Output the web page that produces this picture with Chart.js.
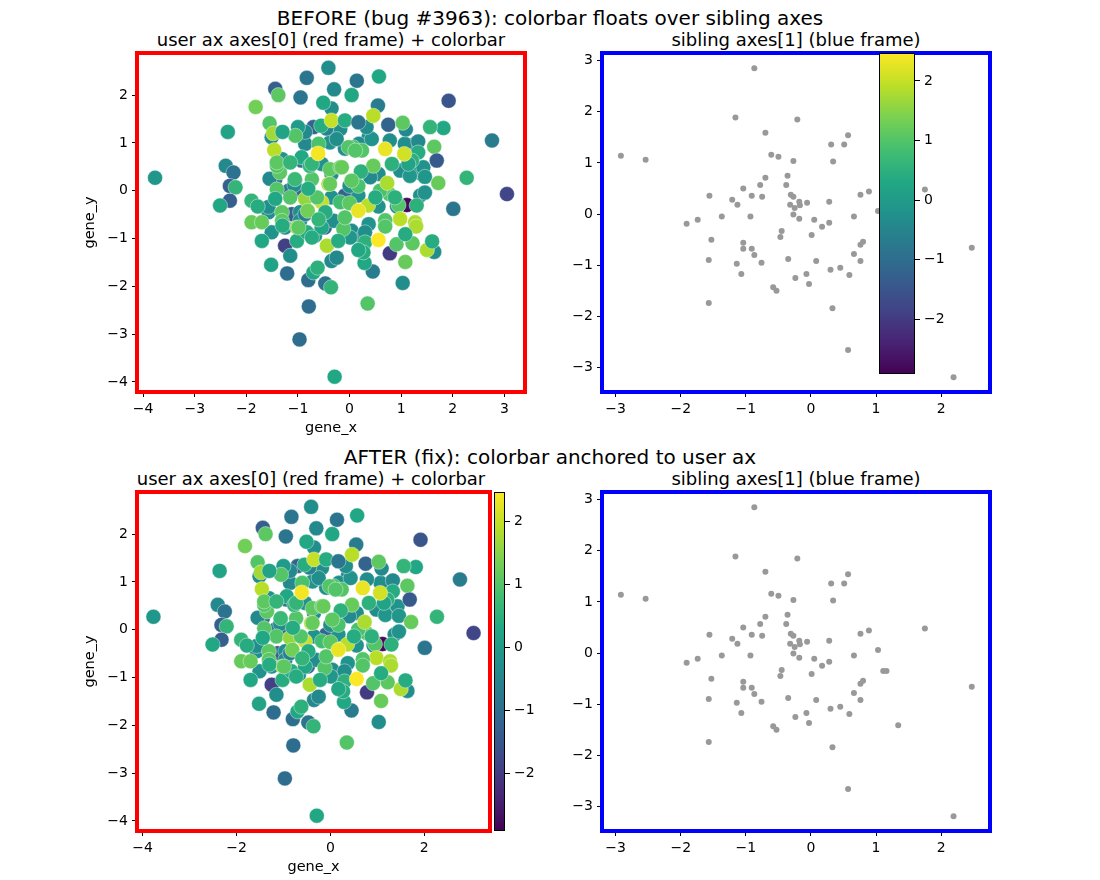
<!DOCTYPE html>
<html>
<head>
<meta charset="utf-8">
<script src="https://cdn.jsdelivr.net/npm/chart.js@4/dist/chart.umd.min.js"></script>
<style>
  body { margin: 0; background: #fff; }
  #fig { position: relative; width: 1100px; height: 880px; overflow: hidden; background: #fff;
         font-family: 'DejaVu Sans', sans-serif; color: #000; }
  .box { position: absolute; }
  .txt { position: absolute; transform: translate(-50%, -50%); white-space: nowrap; }
</style>
</head>
<body>
<div id="fig"></div>
<script>
// ── data ─────────────────────────────────────────────────────────
// user ax points: [gene_x, gene_y, colour value]; drawn in this order
const userPts = [
  // partly hidden, darker points at the back
  [1.11, -0.30, -2.8], [1.12, 0.47, -2.0], [0.78, -1.31, -2.0], [-1.25, -1.15, -1.9],
  [-0.97, 0.00, -1.2], [-1.12, -0.49, -1.3], [-1.06, 0.21, -1.3], [-0.09, -0.10, -1.2],
  [-0.48, -0.77, -1.2], [-1.44, 0.24, -1.0], [-1.18, 0.00, -0.8], [-0.70, 1.33, -1.2],
  [0.75, 1.38, -1.2], [-0.93, 0.63, -0.8],
  // teal body
  [-1.31, 0.66, -0.2], [-0.96, -0.45, -0.3], [-0.35, -0.14, -0.2], [-0.54, 0.56, -0.2],
  [-0.96, -0.63, -0.3], [-1.57, -0.45, -0.3], [-0.09, 0.88, -0.3], [-0.28, 1.12, -0.4],
  [-1.51, 1.12, -0.3], [-0.86, 0.98, -0.4], [-0.35, 0.35, -0.3], [-1.25, -0.77, -0.2],
  [0.04, -0.84, -0.3], [-0.86, -0.49, -0.6], [0.17, -0.10, -0.2], [-1.57, -0.34, -0.3],
  [1.37, -0.10, -0.3], [1.40, 0.35, -0.3], [1.27, 0.98, -0.4], [1.07, 0.98, -0.3],
  [1.27, 0.42, -0.2], [0.37, 1.12, -0.3], [0.18, 0.98, -0.3], [0.56, 0.35, -0.3],
  [0.37, -0.70, -0.2], [0.24, -0.98, -0.3], [-0.31, -0.63, -0.3], [0.00, 0.10, -0.3],
  [-1.55, 0.25, -0.4], [-1.07, 0.12, -0.3], [-0.38, 1.01, -0.2], [-0.18, 1.29, -0.3],
  [0.30, -0.87, -0.3], [0.56, -0.33, -0.2], [0.92, -0.33, -0.3], [0.40, 0.28, -0.4],
  [0.98, 0.42, -0.3], [-0.25, 1.08, -0.3], [1.43, 0.49, -0.2], [1.17, 0.31, -0.1],
  [1.46, 0.29, -0.1], [1.46, -0.04, -0.2], [0.78, 1.05, -0.3], [0.43, 1.08, -0.2],
  [0.33, 1.33, -0.3], [1.09, 1.28, -0.4], [1.33, 1.03, -0.4], [-0.45, 1.30, -0.5],
  [-0.86, 1.23, -0.4], [-0.35, 1.72, -0.3], [-1.00, 1.33, 0.0], [-0.67, -0.94, -0.2],
  [-0.35, -1.47, -0.4], [-1.51, -0.87, -0.2], [-1.15, -1.36, -0.3], [-0.25, -1.40, -0.4],
  [0.01, -0.98, -0.1], [1.64, -1.28, -0.3], [1.03, -1.93, -0.3],
  // left half
  [-3.77, 0.27, -0.1], [-0.41, 2.57, -0.3], [-0.83, 2.36, -0.8], [-1.44, 2.13, -1.3],
  [-1.38, 2.00, 1.1], [-0.95, 1.95, -0.8], [-0.30, 2.12, -0.4], [-1.82, 1.75, 1.3],
  [-0.51, 1.84, 0.3], [-2.36, 1.23, 0.2], [-1.55, 1.41, 1.0], [-1.48, 1.20, 1.7],
  [-1.05, 1.15, 1.0], [-0.55, 1.36, 0.4], [-0.35, 1.47, 2.0], [-0.60, 0.98, 0.9],
  [-1.46, 0.85, 1.9], [-1.30, 1.23, 0.2], [-2.40, 0.52, -0.4], [-2.25, 0.38, -0.9],
  [-2.32, 0.10, -1.3], [-2.21, 0.07, 0.6], [-2.32, -0.21, -1.3], [-2.51, -0.31, 0.3],
  [-1.90, -0.21, 0.6], [-1.78, -0.33, 0.4], [-1.90, -0.66, 1.2], [-1.31, -0.45, 1.1],
  [-1.41, 0.03, 1.0], [-1.15, -0.14, 1.0], [-0.86, -0.17, 1.6], [-0.54, -0.24, 2.0],
  [-1.35, 0.38, 1.1], [-1.06, 0.24, 0.7], [-0.73, 0.24, 1.0], [-0.93, 0.70, 0.3],
  [-0.77, 0.52, 0.6], [-0.41, 0.14, 1.8], [-1.41, 0.52, 1.0], [-1.44, -0.17, 0.3],
  [-1.31, -0.63, 1.1], [-0.81, -0.42, 1.3], [-0.63, -0.14, 1.0], [-0.47, -0.45, 0.4],
  [-1.70, -0.66, 1.2], [-0.38, 0.45, 1.1],
  // right half
  [0.14, 2.30, -0.8], [0.57, 2.39, 0.3], [0.04, 2.00, 0.3], [1.92, 1.88, -1.5],
  [0.55, 1.78, -0.7], [0.46, 1.57, 1.9], [-0.09, 1.47, 0.4], [1.03, 1.42, 1.1],
  [1.82, 1.31, 0.3], [1.56, 1.33, 0.6], [0.17, 1.43, -0.8], [2.76, 1.05, -0.7],
  [1.64, 0.92, 1.1], [1.69, 0.63, -1.4], [1.33, 0.80, 0.4], [0.07, 0.91, 0.9],
  [0.24, 0.84, 1.0], [0.46, 0.52, 1.2], [0.82, 0.56, 0.5], [1.21, 0.63, 0.5],
  [1.14, 0.56, 0.2], [1.72, 0.16, 1.2], [2.27, 0.27, 0.6], [2.01, -0.38, -0.8],
  [0.77, -0.07, 1.0], [1.30, -0.31, 0.5], [0.95, -0.30, 1.0], [0.36, -0.31, 1.9],
  [0.98, -0.59, 1.9], [1.27, -0.66, 1.8], [-0.18, 0.49, 1.1], [0.17, 0.10, 0.9],
  [0.59, 0.00, 0.9], [-0.18, -0.24, 0.8], [0.00, -0.26, 1.1], [-0.02, 0.91, 1.0],
  [0.69, -0.62, 1.0], [0.73, 0.16, 1.8], [0.88, -0.14, 0.5], [0.50, -0.14, 0.4],
  [0.22, 0.40, 0.5], [3.05, -0.07, -1.8],
  // lower left
  [-1.70, -1.05, 0.3], [-1.02, -0.77, 1.6], [-1.30, -0.73, 0.4], [-1.02, -1.05, 0.4],
  [-1.52, -1.55, 0.2], [-1.21, -1.73, -1.0], [-0.80, -1.87, -1.0], [-0.70, -1.71, 0.3],
  [-0.62, -1.61, 0.5], [-0.47, -1.94, -0.9], [-0.36, -2.02, 0.6], [-0.79, -2.42, -1.0],
  [-0.97, -3.11, -1.0], [-0.29, -3.89, 0.3], [-0.83, -0.87, 0.4], [-0.54, -0.77, 0.3],
  [-0.44, -1.15, 1.8],
  // lower right
  [1.08, -1.49, 1.2], [0.35, -2.36, 1.0], [0.45, -1.69, -0.7], [0.29, -1.51, 0.3],
  [1.50, -1.24, 1.8], [1.60, -1.06, 0.4], [1.22, -1.10, 1.1], [0.91, -1.12, 1.0],
  [1.29, -0.75, 1.8], [0.69, -0.75, 1.0], [-0.12, -0.80, 1.0], [0.30, -1.08, 0.5],
  [0.27, -1.29, 0.4], [1.08, -0.91, 0.4],
  // centre
  [-1.41, 0.59, 1.1], [-1.15, 0.59, 0.6], [-0.73, 0.56, 0.6], [-0.15, 0.49, 1.2],
  [0.11, 0.84, 1.0], [0.04, 0.21, 1.1], [-0.38, 0.14, 1.2], [-0.99, -0.77, 1.1],
  [-0.22, -1.05, 0.4], [-0.09, -0.56, 1.0], [-0.60, -0.60, 0.6], [0.17, -1.24, 0.3],
  [-0.80, 0.04, 0.4], [-0.73, -0.98, 0.4],
  // brightest on top
  [1.06, 0.77, 2.1], [0.17, -0.42, 2.3], [0.69, 0.87, 2.3], [-0.61, 0.78, 2.4],
  [0.56, -1.03, 2.45]
];

// sibling ax points: [x, y]
const sibPts = [
  [-0.87, 2.85], [-1.16, 1.89], [-0.21, 1.85], [-0.70, 1.59], [-2.92, 1.14], [-2.54, 1.06],
  [-0.61, 1.16], [-0.50, 1.12], [-0.27, 1.04], [-0.36, 0.75], [-0.70, 0.71], [-0.78, 0.57],
  [-0.38, 0.57], [-1.04, 0.50], [-1.56, 0.36], [-0.91, 0.36], [-0.75, 0.34], [-1.21, 0.28],
  [-1.13, 0.18], [-0.31, 0.38], [-0.27, 0.34], [-0.32, 0.18], [-0.25, 0.12], [-0.18, 0.24],
  [-0.27, -0.01], [-0.18, -0.09], [-1.91, -0.19], [-1.74, -0.11], [-1.37, -0.05], [-0.93, -0.05],
  [-0.45, -0.33], [-0.47, -0.45], [-1.53, -0.50], [-1.04, -0.56], [-1.04, -0.68], [-0.91, -0.68],
  [-0.87, -0.80], [-1.57, -0.90], [-1.14, -0.97], [-0.76, -0.95], [-0.35, -0.88], [-1.07, -1.17],
  [-0.24, -1.25], [-0.58, -1.43], [-0.53, -1.50], [-1.57, -1.74],
  [0.57, 1.54], [0.31, 1.36], [0.51, 1.36], [0.34, 1.03], [1.75, 0.48], [0.76, 0.38],
  [0.89, 0.44], [-0.06, 0.22], [0.28, 0.24], [-0.17, 0.17], [0.05, -0.11], [1.03, 0.06],
  [0.66, -0.05], [0.28, -0.17], [0.17, -0.25], [0.01, -0.41], [1.11, -0.35], [1.16, -0.35],
  [0.76, -0.60], [0.80, -0.54], [0.66, -0.78], [0.76, -0.92], [2.47, -0.66], [0.08, -0.92],
  [-0.07, -1.17], [-0.03, -1.37], [0.30, -1.09], [0.45, -1.05], [0.59, -1.19], [1.34, -1.41],
  [0.33, -1.84], [0.57, -2.66], [2.19, -3.19]
];

const userXLim = [-4.12, 3.40];
const userYLim = [-4.21, 2.88];
const sibXLim  = [-3.21, 2.75];
const sibYLim  = [-3.48, 3.15];
const cbLim    = [-2.92, 2.47];

const userXTicksBefore = [-4, -3, -2, -1, 0, 1, 2, 3];
const userXTicksAfter  = [-4, -2, 0, 2];
const userYTicks = [-4, -3, -2, -1, 0, 1, 2];
const sibXTicks  = [-3, -2, -1, 0, 1, 2];
const sibYTicks  = [-3, -2, -1, 0, 1, 2, 3];
const cbTicks    = [-2, -1, 0, 1, 2];

// ── styling / layout ─────────────────────────────────────────────
const FONT = "'DejaVu Sans', sans-serif";
const VIRIDIS = ['#440154', '#482475', '#414487', '#355f8d', '#2a788e', '#21918c',
                 '#22a884', '#44bf70', '#7ad151', '#bddf26', '#fde725'];

const hex2rgb = h => [1, 3, 5].map(i => parseInt(h.slice(i, i + 2), 16));
function viridis(v) {
  let t = (v - cbLim[0]) / (cbLim[1] - cbLim[0]);
  t = Math.min(1, Math.max(0, t)) * (VIRIDIS.length - 1);
  const i = Math.min(VIRIDIS.length - 2, Math.floor(t));
  const f = t - i;
  const a = hex2rgb(VIRIDIS[i]), b = hex2rgb(VIRIDIS[i + 1]);
  const c = a.map((x, k) => Math.round(x + (b[k] - x) * f));
  return `rgb(${c[0]},${c[1]},${c[2]})`;
}
const fmtTick = v => v < 0 ? '\u2212' + Math.abs(v) : String(v);

const fig = document.getElementById('fig');

function addText(str, x, y, size) {
  const d = document.createElement('div');
  d.className = 'txt';
  d.style.left = x + 'px';
  d.style.top = y + 'px';
  d.style.fontSize = size + 'px';
  d.textContent = str;
  fig.appendChild(d);
}

function addCanvas(left, top, w, h) {
  const d = document.createElement('div');
  d.className = 'box';
  Object.assign(d.style, { left: left + 'px', top: top + 'px', width: w + 'px', height: h + 'px' });
  const cv = document.createElement('canvas');
  d.appendChild(cv);
  fig.appendChild(d);
  return cv;
}

const framePlugin = color => ({
  id: 'frame',
  afterDraw(chart) {
    const { ctx, chartArea: a } = chart;
    ctx.save();
    ctx.strokeStyle = color;
    ctx.lineWidth = 4;
    ctx.strokeRect(a.left, a.top, a.right - a.left, a.bottom - a.top);
    ctx.restore();
  },
});

const tickAxis = (lim, ticks, fixSize) => ({
  type: 'linear',
  min: lim[0], max: lim[1],
  afterBuildTicks: s => { s.ticks = ticks.map(v => ({ value: v })); },
  afterFit: fixSize,
  ticks: { font: { family: FONT, size: 14 }, color: '#000', padding: 4,
           autoSkip: false, maxRotation: 0, callback: v => fmtTick(v) },
  grid: { drawOnChartArea: false, drawTicks: true, tickLength: 5, color: '#000', lineWidth: 1 },
  border: { display: false },
});

// ── ① / ③ scatter axes ───────────────────────────────────────────
function buildAxes(rect, cfg) {
  const padL = 60, padT = 20, padR = 20, padB = 50;
  const cv = addCanvas(rect.l - padL, rect.t - padT,
                       rect.r - rect.l + padL + padR, rect.b - rect.t + padT + padB);
  const x = tickAxis(cfg.xLim, cfg.xTicks, s => { s.height = padB; });
  const y = tickAxis(cfg.yLim, cfg.yTicks, s => { s.width = padL; });
  if (cfg.xLabel) x.title = { display: true, text: cfg.xLabel, color: '#000',
                              font: { family: FONT, size: 14.5 }, padding: { top: 0, bottom: 5 } };
  if (cfg.yLabel) y.title = { display: true, text: cfg.yLabel, color: '#000',
                              font: { family: FONT, size: 14.5 }, padding: { top: 5, bottom: 0 } };
  return new Chart(cv, {
    type: 'scatter',
    data: { datasets: [{
      data: cfg.pts.map(p => ({ x: p[0], y: p[1] })),
      backgroundColor: cfg.colors,
      borderColor: cfg.edge,
      borderWidth: cfg.edgeW,
      pointRadius: cfg.radius,
      pointHoverRadius: cfg.radius,
    }] },
    options: {
      responsive: true, maintainAspectRatio: false, animation: false, events: [],
      layout: { padding: { top: padT, right: padR, left: 0, bottom: 0 } },
      plugins: { legend: { display: false }, tooltip: { enabled: false } },
      scales: { x, y },
    },
    plugins: [framePlugin(cfg.frame)],
  });
}

// ── ② colour bar ─────────────────────────────────────────────────
function buildColorbar(rect) {
  const padT = 14, padB = 14, padR = 50;
  const cv = addCanvas(rect.l, rect.t - padT, rect.r - rect.l + padR, rect.b - rect.t + padT + padB);
  const y = tickAxis(cbLim, cbTicks, s => { s.width = padR; });
  y.position = 'right';
  return new Chart(cv, {
    type: 'scatter',
    data: { datasets: [{ data: [] }] },
    options: {
      responsive: true, maintainAspectRatio: false, animation: false, events: [],
      layout: { padding: { top: padT, bottom: padB, left: 0, right: 0 } },
      plugins: { legend: { display: false }, tooltip: { enabled: false } },
      scales: { x: { display: false, min: 0, max: 1 }, y },
    },
    plugins: [{
      id: 'cbFill',
      beforeDatasetsDraw(chart) {
        const { ctx, chartArea: a, scales } = chart;
        const y0 = scales.y.getPixelForValue(cbLim[0]);
        const y1 = scales.y.getPixelForValue(cbLim[1]);
        const g = ctx.createLinearGradient(0, y0, 0, y1);
        VIRIDIS.forEach((c, i) => g.addColorStop(i / (VIRIDIS.length - 1), c));
        ctx.save();
        ctx.fillStyle = g;
        ctx.fillRect(a.left, y1, a.right - a.left, y0 - y1);
        ctx.strokeStyle = '#000';
        ctx.lineWidth = 1;
        ctx.strokeRect(a.left + 0.5, y1 + 0.5, a.right - a.left - 1, y0 - y1 - 1);
        ctx.restore();
      },
    }],
  });
}

const userColors = userPts.map(p => viridis(p[2]));

// BEFORE row
addText('BEFORE (bug #3963): colorbar floats over sibling axes', 550, 18, 20);
addText('user ax axes[0] (red frame) + colorbar', 331, 39, 18);
addText('sibling axes[1] (blue frame)', 796, 39, 18);

buildAxes({ l: 137, t: 53, r: 525, b: 392 }, {
  pts: userPts, colors: userColors, edge: '#ffffff', edgeW: 0.4, radius: 7.5,
  xLim: userXLim, yLim: userYLim, xTicks: userXTicksBefore, yTicks: userYTicks,
  xLabel: 'gene_x', yLabel: 'gene_y', frame: '#ff0000',
});
buildAxes({ l: 602, t: 53, r: 990, b: 392 }, {
  pts: sibPts, colors: '#999999', edge: '#999999', edgeW: 0, radius: 3,
  xLim: sibXLim, yLim: sibYLim, xTicks: sibXTicks, yTicks: sibYTicks, frame: '#0000ff',
});
buildColorbar({ l: 879, t: 53, r: 915, b: 374 });

// AFTER row
addText('AFTER (fix): colorbar anchored to user ax', 550, 457, 20);
addText('user ax axes[0] (red frame) + colorbar', 311, 478, 18);
addText('sibling axes[1] (blue frame)', 796, 478, 18);

buildAxes({ l: 137, t: 492, r: 490, b: 831 }, {
  pts: userPts, colors: userColors, edge: '#ffffff', edgeW: 0.4, radius: 7.5,
  xLim: userXLim, yLim: userYLim, xTicks: userXTicksAfter, yTicks: userYTicks,
  xLabel: 'gene_x', yLabel: 'gene_y', frame: '#ff0000',
});
buildAxes({ l: 602, t: 492, r: 990, b: 831 }, {
  pts: sibPts, colors: '#999999', edge: '#999999', edgeW: 0, radius: 3,
  xLim: sibXLim, yLim: sibYLim, xTicks: sibXTicks, yTicks: sibYTicks, frame: '#0000ff',
});
buildColorbar({ l: 494, t: 492, r: 505, b: 831 });
</script>
</body>
</html>
